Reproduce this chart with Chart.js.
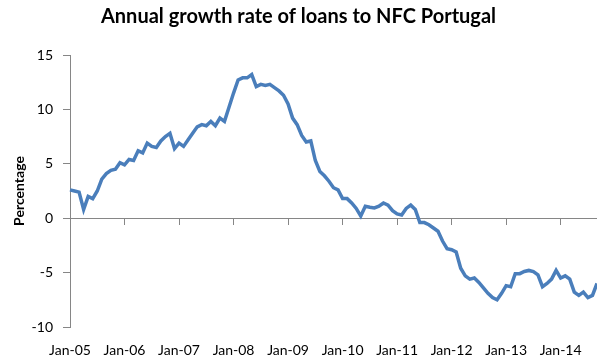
<!DOCTYPE html>
<html>
<head>
<meta charset="utf-8">
<script src="https://cdn.jsdelivr.net/npm/chart.js@4"></script>
<style>
  html, body { margin: 0; padding: 0; background: #fff; }
  #wrap { width: 597px; height: 362px; }
</style>
</head>
<body>
<div id="wrap"><canvas id="myChart"></canvas></div>
<script>
// monthly observations, Jan-05 .. Sep-14
var years = ['05', '06', '07', '08', '09', '10', '11', '12', '13', '14'];
var monthNames = ['Jan', 'Feb', 'Mar', 'Apr', 'May', 'Jun', 'Jul', 'Aug', 'Sep', 'Oct', 'Nov', 'Dec'];

// annual growth rate, percent
var growth = [
  2.6, 2.5, 2.4, 0.8, 2.0, 1.8, 2.5, 3.6, 4.1, 4.4, 4.5, 5.1,
  4.9, 5.4, 5.3, 6.2, 6.0, 6.9, 6.6, 6.5, 7.1, 7.5, 7.8, 6.4,
  6.9, 6.6, 7.2, 7.8, 8.4, 8.6, 8.5, 8.9, 8.5, 9.2, 8.9, 10.2,
  11.5, 12.7, 12.9, 12.9, 13.2, 12.1, 12.3, 12.2, 12.3, 12.0, 11.7, 11.3,
  10.5, 9.2, 8.6, 7.6, 7.0, 7.1, 5.3, 4.3, 3.9, 3.4, 2.8, 2.6,
  1.8, 1.8, 1.4, 0.9, 0.2, 1.1, 1.0, 0.95, 1.1, 1.4, 1.2, 0.7,
  0.4, 0.3, 0.9, 1.2, 0.8, -0.4, -0.4, -0.6, -0.9, -1.2, -2.1, -2.8,
  -2.9, -3.1, -4.6, -5.3, -5.6, -5.5, -5.9, -6.4, -6.9, -7.3, -7.5, -6.9,
  -6.2, -6.3, -5.1, -5.1, -4.9, -4.8, -4.9, -5.2, -6.3, -6.0, -5.6, -4.8,
  -5.5, -5.3, -5.6, -6.8, -7.1, -6.8, -7.3, -7.1, -6.0
];

var yTicks = [-10, -5, 0, 5, 10, 15];

var months = [];
for (var i = 0; i < growth.length; i++) {
  months.push(monthNames[i % 12] + '-' + years[Math.floor(i / 12)]);
}

var axisGrey = '#868686';
var tickFont = { family: 'Lato', size: 14 };

// keep the plot running right up to the canvas edge
function noSidePadding(s) {
  s.paddingLeft = 0;
  s.paddingRight = 0;
}

var ctx = document.getElementById('myChart').getContext('2d');
var chart = new Chart(ctx, {
    type: 'line',
    data: {
        labels: months,
        datasets: [{
            label: 'Annual growth rate',
            data: growth,
            borderColor: '#4a7ebb',
            borderWidth: 3.5,
            pointRadius: 0,
            tension: 0,
            fill: false
        }]
    },
    options: {
        responsive: true,
        maintainAspectRatio: false,
        animation: false,
        layout: { padding: 0 },
        plugins: {
            legend: { display: false },
            tooltip: { enabled: false },
            title: {
                display: true,
                text: 'Annual growth rate of loans to NFC Portugal',
                color: '#000',
                font: { family: 'Lato', size: 20, weight: 'bold' },
                padding: { top: 5, bottom: 26 }
            }
        },
        scales: {
            // axis line sits on zero, with a tick mark every January
            x: {
                type: 'category',
                position: { y: 0 },
                offset: false,
                border: { display: true, color: axisGrey, width: 1 },
                grid: {
                    drawOnChartArea: false,
                    drawTicks: true,
                    tickLength: 6,
                    tickColor: function (c) {
                        return c.index % 12 === 0 ? axisGrey : 'rgba(0,0,0,0)';
                    }
                },
                ticks: { display: false, autoSkip: false },
                afterFit: noSidePadding
            },
            // year labels along the bottom
            x2: {
                type: 'category',
                position: 'bottom',
                labels: months,
                offset: false,
                border: { display: false },
                grid: { display: false, drawTicks: false },
                ticks: {
                    autoSkip: false,
                    maxRotation: 0,
                    padding: 15,
                    color: '#000',
                    font: tickFont,
                    callback: function (v, idx) {
                        return idx % 12 === 0 ? months[idx] : '';
                    }
                },
                afterFit: function (s) {
                    s.height = 35;
                    noSidePadding(s);
                }
            },
            y: {
                min: -10,
                max: 15,
                afterBuildTicks: function (s) {
                    s.ticks = yTicks.map(function (v) { return { value: v }; });
                },
                border: { display: true, color: axisGrey, width: 1 },
                grid: {
                    drawOnChartArea: false,
                    drawTicks: true,
                    tickLength: 7,
                    tickColor: axisGrey
                },
                ticks: { color: '#000', font: tickFont, padding: 10 },
                title: {
                    display: true,
                    text: 'Percentage',
                    color: '#000',
                    font: { family: 'Lato', size: 14, weight: 'bold' },
                    padding: { top: 11, bottom: 0 }
                },
                afterFit: function (s) { s.width = 70; }
            }
        }
    }
});
</script>
</body>
</html>
